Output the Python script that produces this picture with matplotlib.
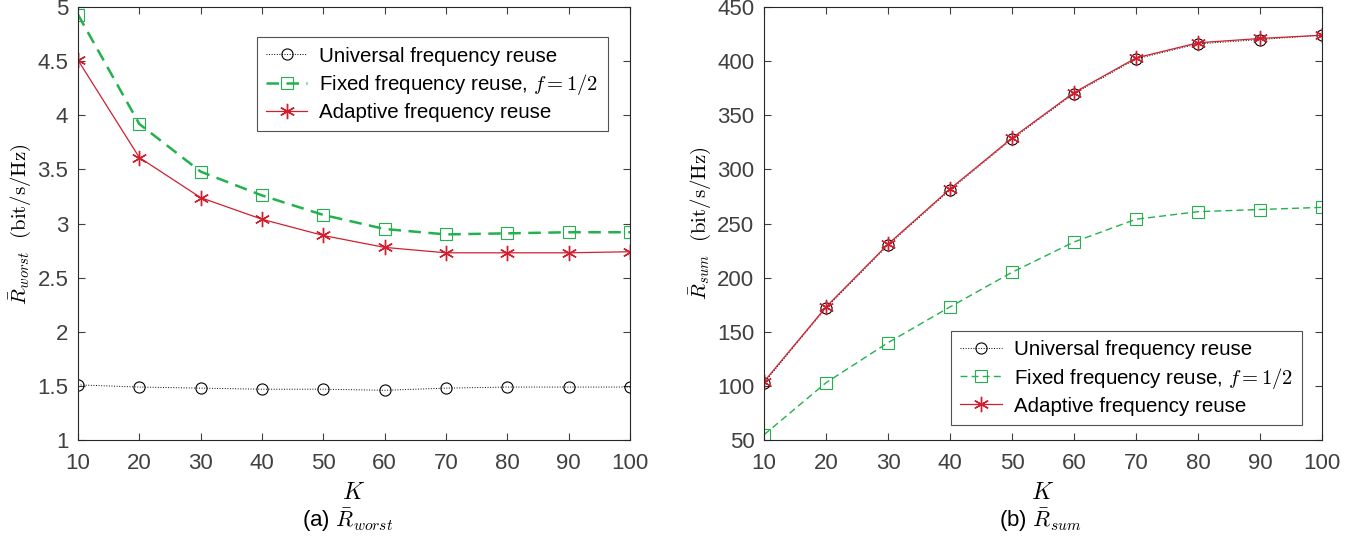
import matplotlib

matplotlib.use("Agg")
import matplotlib.pyplot as plt
from matplotlib.ticker import FormatStrFormatter

plt.rcParams["font.family"] = ["Liberation Sans", "DejaVu Sans"]
plt.rcParams["mathtext.fontset"] = "cm"

k_values = [10, 20, 30, 40, 50, 60, 70, 80, 90, 100]

worst_universal = [1.51, 1.49, 1.48, 1.47, 1.47, 1.46, 1.48, 1.49, 1.49, 1.49]
worst_fixed = [4.93, 3.92, 3.48, 3.26, 3.08, 2.95, 2.90, 2.91, 2.92, 2.92]
worst_adaptive = [4.51, 3.61, 3.24, 3.04, 2.89, 2.78, 2.73, 2.73, 2.73, 2.74]

sum_universal = [103, 172, 230, 281, 328, 370, 402, 416, 420, 424]
sum_fixed = [55, 103, 140, 173, 205, 233, 254, 261, 263, 265]
sum_adaptive = [104, 173, 231, 282, 329, 371, 403, 417, 421, 424]

labels = [
    "Universal frequency reuse",
    "Fixed frequency reuse, $f=1/2$",
    "Adaptive frequency reuse",
]

BLACK = "#000000"
GREEN = "#22b14c"
RED = "#d02030"
TICK_COLOR = "#404040"
SPINE_COLOR = "#262626"


def style_axes(ax, yticks, ylim, ylabel):
    ax.set_xlim(10, 100)
    ax.set_ylim(*ylim)
    ax.set_xticks(k_values)
    ax.set_yticks(yticks)
    ax.yaxis.set_major_formatter(FormatStrFormatter("%g"))
    ax.tick_params(direction="in", top=True, right=True, length=5,
                   labelsize=16, colors=TICK_COLOR, width=0.8)
    ax.tick_params(axis="x", pad=9)
    ax.tick_params(axis="y", pad=7)
    for spine in ax.spines.values():
        spine.set_color(SPINE_COLOR)
        spine.set_linewidth(0.8)
    ax.set_xlabel("$K$", fontsize=17, labelpad=6)
    ax.set_ylabel(ylabel, fontsize=15, labelpad=3)


def draw_series(ax, universal, fixed, adaptive, fixed_lw):
    ax.plot(k_values, universal, color=BLACK, linestyle=":", linewidth=0.7,
            marker="o", markersize=8, markerfacecolor="none",
            markeredgewidth=0.8, label=labels[0])
    ax.plot(k_values, fixed, color=GREEN, linestyle=(0, (5, 3)),
            linewidth=fixed_lw, marker="s", markersize=8,
            markerfacecolor="none", markeredgewidth=0.8, label=labels[1])
    ax.plot(k_values, adaptive, color=RED, linestyle="-", linewidth=0.9,
            marker=(6, 2, 0), markersize=11, markeredgewidth=1.0,
            label=labels[2])


def add_legend(ax, **kwargs):
    leg = ax.legend(fontsize=14.8, frameon=True, fancybox=False,
                    borderpad=0.45, handlelength=2.0, labelspacing=0.3,
                    handletextpad=0.6, borderaxespad=0, **kwargs)
    leg.get_frame().set_edgecolor(SPINE_COLOR)
    leg.get_frame().set_linewidth(0.8)
    return leg


fig = plt.figure(figsize=(13.54, 5.44), dpi=100)
ax1 = fig.add_axes([0.0576, 0.191, 0.4077, 0.796])
ax2 = fig.add_axes([0.5643, 0.191, 0.412, 0.796])

draw_series(ax1, worst_universal, worst_fixed, worst_adaptive, 1.8)
style_axes(ax1, [1, 1.5, 2, 2.5, 3, 3.5, 4, 4.5, 5], (1, 5),
           r"$\bar{R}_{worst}\ \ (\mathrm{bit/s/Hz})$")
add_legend(ax1, loc="upper right", bbox_to_anchor=(0.96, 0.93))

draw_series(ax2, sum_universal, sum_fixed, sum_adaptive, 1.0)
style_axes(ax2, [50, 100, 150, 200, 250, 300, 350, 400, 450], (50, 450),
           r"$\bar{R}_{sum}\ \ (\mathrm{bit/s/Hz})$")
add_legend(ax2, loc="lower right", bbox_to_anchor=(0.965, 0.035))

fig.text(0.257, 0.043, r"(a) $\bar{R}_{worst}$", fontsize=16,
         ha="center", va="center")
fig.text(0.768, 0.043, r"(b) $\bar{R}_{sum}$", fontsize=16,
         ha="center", va="center")

fig.savefig("out.png", dpi=100)
